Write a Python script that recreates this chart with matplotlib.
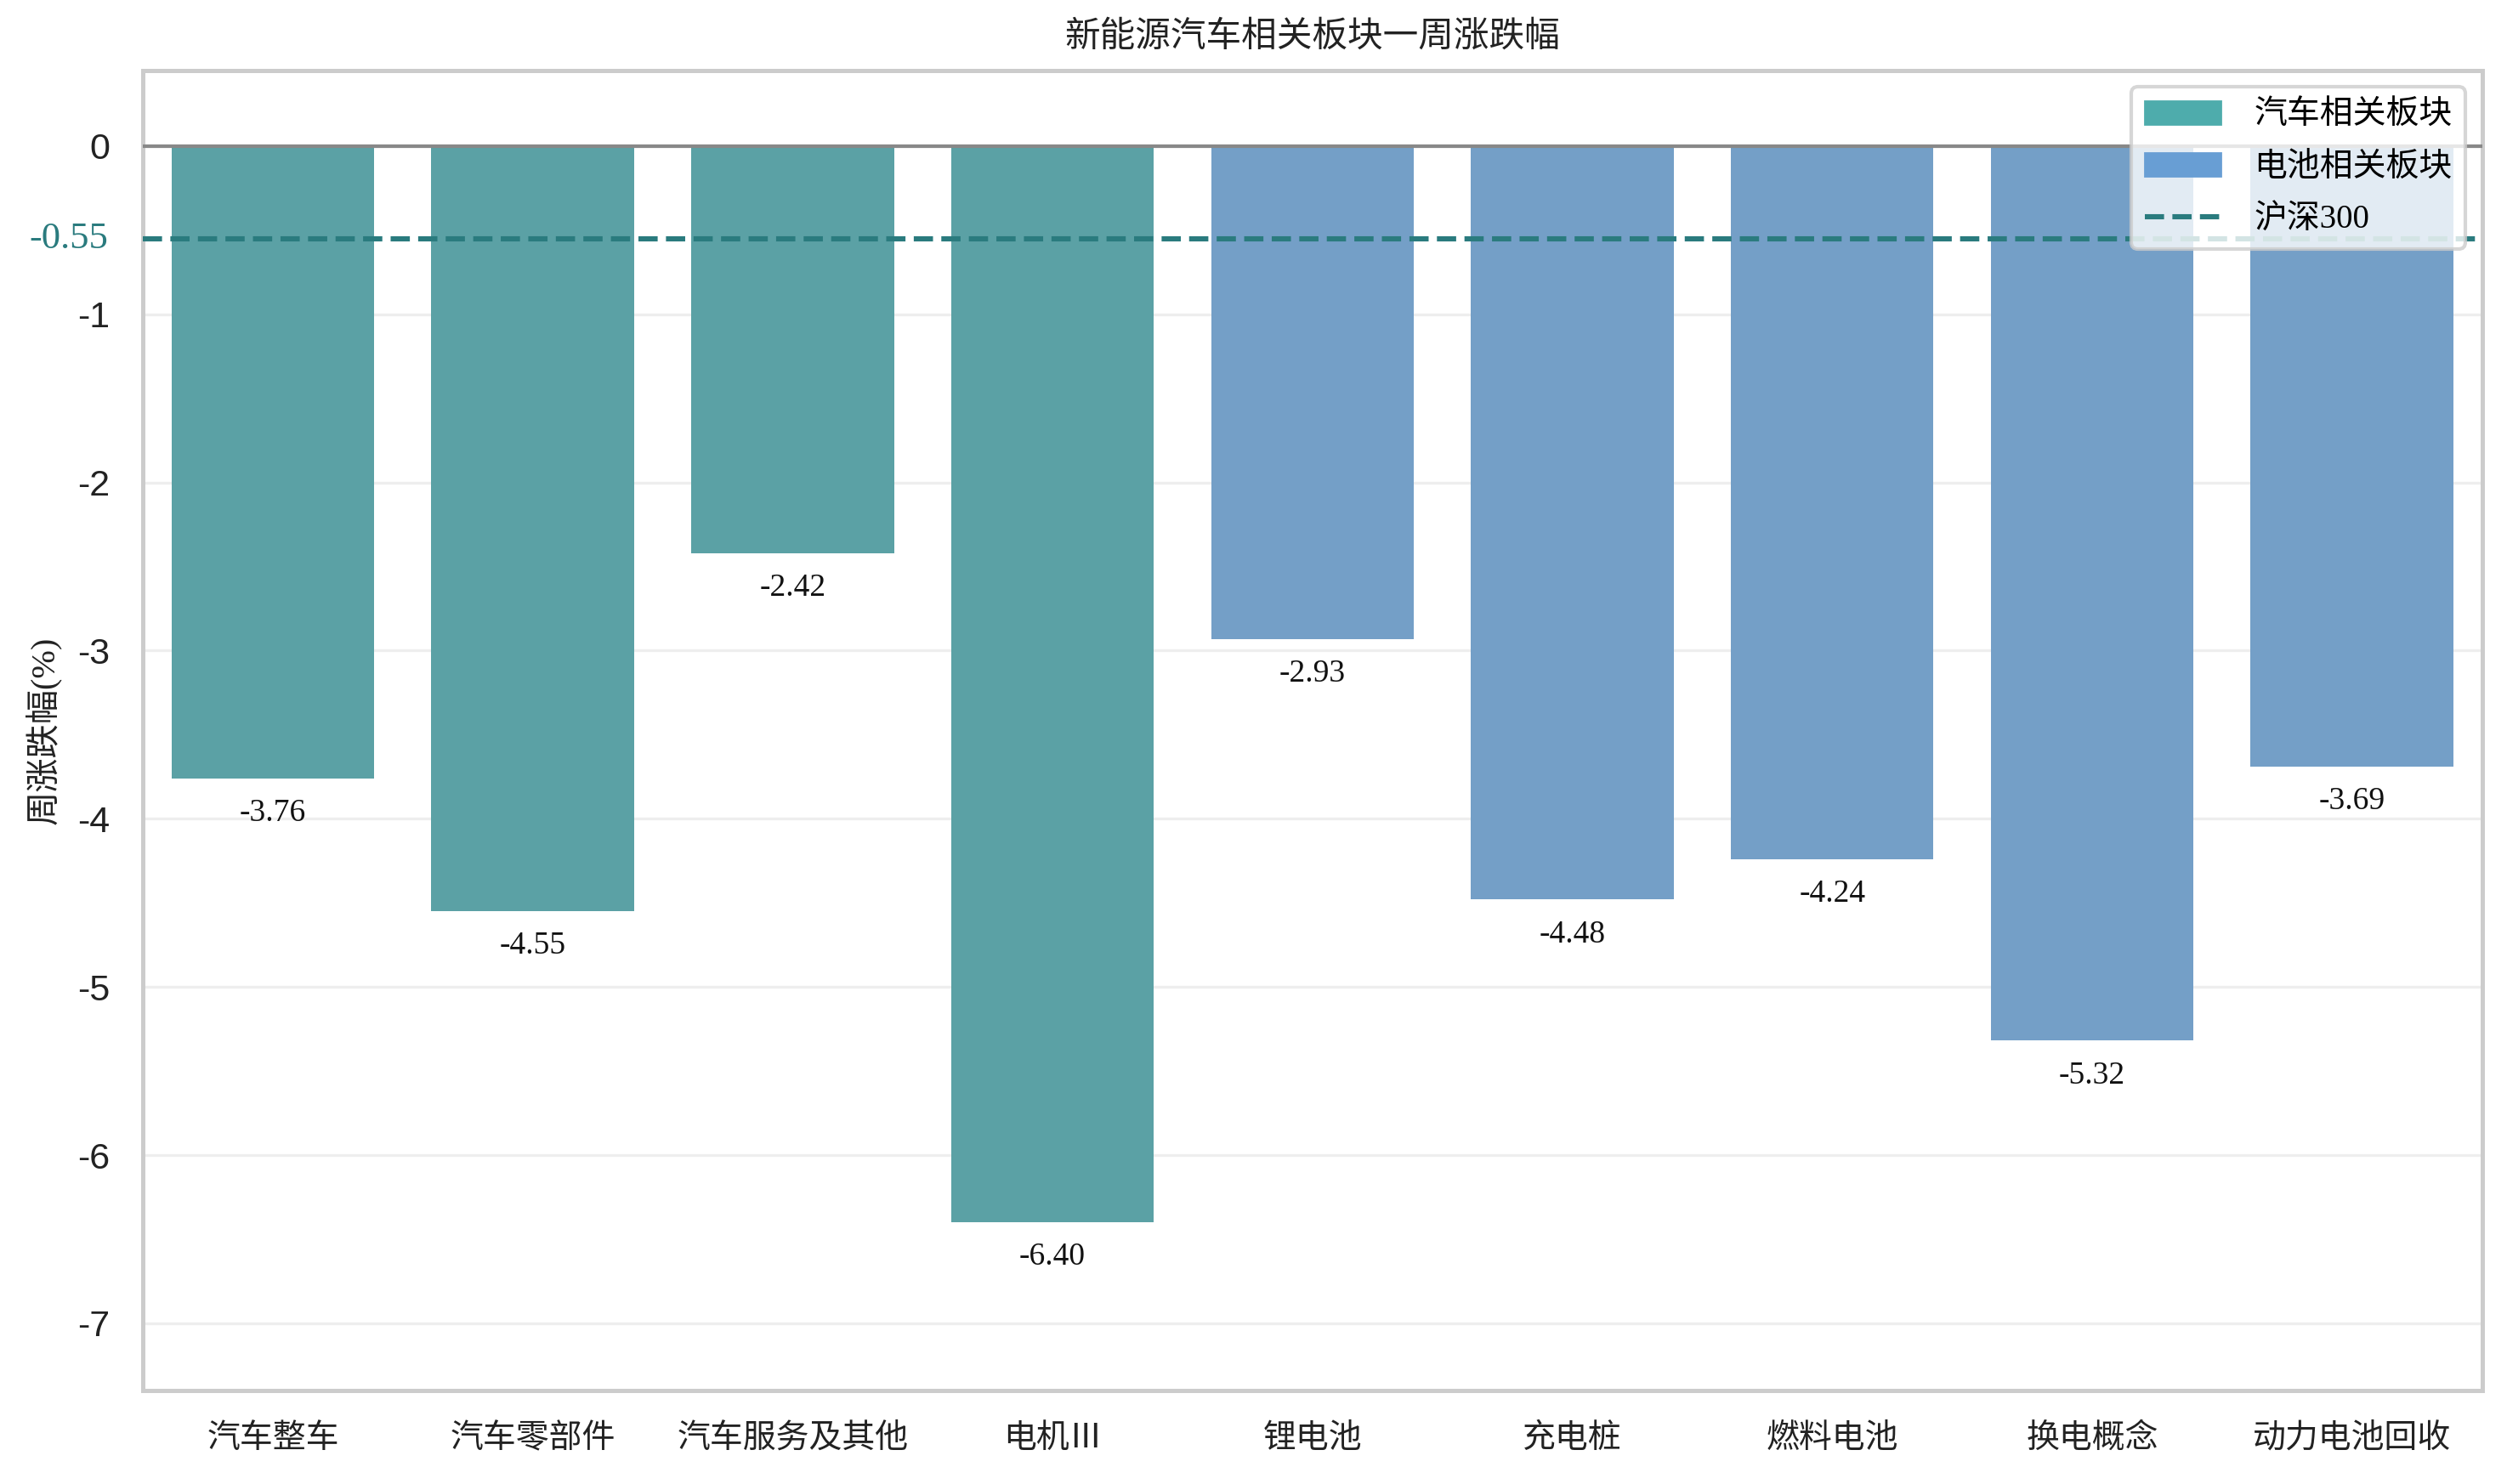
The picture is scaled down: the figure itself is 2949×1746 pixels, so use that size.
import matplotlib.pyplot as plt
from matplotlib.patches import Patch
from matplotlib.lines import Line2D
import matplotlib.transforms as mtransforms

plt.rcParams['font.family'] = ['Liberation Serif', 'Noto Sans CJK SC']
plt.rcParams['axes.unicode_minus'] = False

categories = ['汽车整车', '汽车零部件', '汽车服务及其他', '电机Ⅲ',
              '锂电池', '充电桩', '燃料电池', '换电概念', '动力电池回收']
values = [-3.76, -4.55, -2.42, -6.40, -2.93, -4.48, -4.24, -5.32, -3.69]
groups = ['car', 'car', 'car', 'car', 'bat', 'bat', 'bat', 'bat', 'bat']
hs300 = -0.55
yticks = [0, -1, -2, -3, -4, -5, -6, -7]

bar_colors = {'car': '#5BA1A5', 'bat': '#749FC7'}
legend_colors = {'car': '#4EACAC', 'bat': '#689ED4'}
line_color = '#2A7B7E'

fig, ax = plt.subplots(figsize=(14.745, 8.73), dpi=200)
fig.subplots_adjust(left=0.057, right=0.990, top=0.9525, bottom=0.063)

x = list(range(len(categories)))
ax.bar(x, values, width=0.78, color=[bar_colors[g] for g in groups], zorder=2)

for xi, v in zip(x, values):
    ax.text(xi, v - 0.12, f'{v:.2f}', ha='center', va='top', fontsize=13.5,
            color='#111111', zorder=4)

ax.axhline(0, color='#888888', lw=1.5, zorder=3)
ax.axhline(hs300, color=line_color, lw=2.2, ls='--', zorder=3)

ax.set_xlim(-0.5, len(categories) - 0.5)
ax.set_ylim(-7.4, 0.45)
ax.set_yticks(yticks)
ax.set_yticklabels([str(t) for t in yticks], family='Liberation Sans', fontsize=15.5, color='#222222')
ax.set_xticks(x)
ax.set_xticklabels(categories, fontsize=14, color='#222222')
ax.tick_params(axis='both', length=0, pad=14)

trans = mtransforms.blended_transform_factory(ax.transAxes, ax.transData)
ax.text(-0.015, hs300, f'{hs300:.2f}', transform=trans, ha='right', va='center',
        fontsize=16, color=line_color)

ax.grid(axis='y', color='#eeeeee', lw=1.2, zorder=0)
ax.set_axisbelow(True)
for s in ax.spines.values():
    s.set_color('#cccccc')
    s.set_linewidth(1.8)

ax.set_ylabel('周涨跌幅(%)', fontsize=14.5, color='#222222')
ax.yaxis.set_label_coords(-0.035, 0.5)
ax.set_title('新能源汽车相关板块一周涨跌幅', fontsize=15, color='#222222', pad=10)

handles = [Patch(color=legend_colors['car'], label='汽车相关板块'),
           Patch(color=legend_colors['bat'], label='电池相关板块'),
           Line2D([0], [0], color=line_color, lw=2.2, ls='--', label='沪深300')]
leg = ax.legend(handles=handles, loc='upper right', fontsize=14, framealpha=0.8,
                edgecolor='#cccccc', fancybox=True, handlelength=2.3,
                handletextpad=1.0, labelspacing=0.62, borderaxespad=0.5)
leg.get_frame().set_linewidth(1.5)
leg.set_zorder(5)

fig.savefig('out.png', dpi=200)
